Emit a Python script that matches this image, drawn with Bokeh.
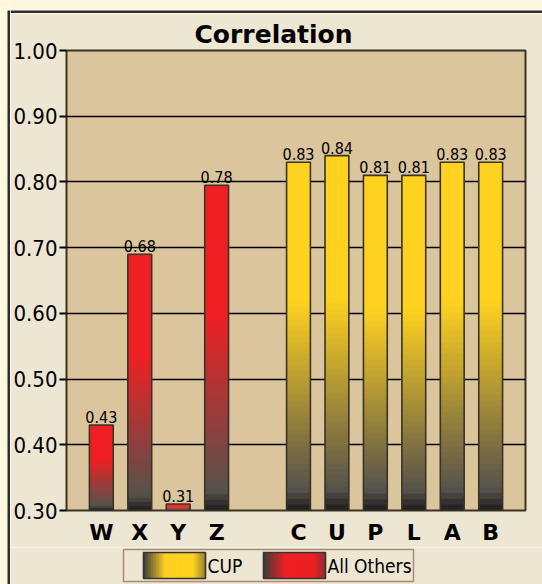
import numpy as np
from bokeh.plotting import figure
from bokeh.models import FactorRange, Range1d, FixedTicker, NumeralTickFormatter
from bokeh.layouts import column, row
from bokeh.embed import file_html
from bokeh.resources import INLINE
from bokeh.core.properties import value

# ---------------- data ----------------
title_text = "Correlation"
others_name = "All Others"
cup_name = "CUP"
others_cats = ["W", "X", "Y", "Z"]
others_vals = [0.43, 0.69, 0.31, 0.795]
others_labels = ["0.43", "0.68", "0.31", "0.78"]
cup_cats = ["C", "U", "P", "L", "A", "B"]
cup_vals = [0.83, 0.84, 0.81, 0.81, 0.83, 0.83]
cup_labels = ["0.83", "0.84", "0.81", "0.81", "0.83", "0.83"]
y_ticks = [0.30, 0.40, 0.50, 0.60, 0.70, 0.80, 0.90, 1.00]
y_min, y_max = 0.30, 1.00

# ---------------- styles ----------------
PAGE = "#fdf8dc"
EDGE = "#2e2e2e"
BG = "#ede6d2"
FRAME_BG = "#dbc59c"
YELLOW = (255, 210, 32)
RED = (238, 32, 36)
NARROW = "'DejaVu Sans Condensed', 'Roboto', sans-serif"
GEO = "DejaVu Sans"
W_ALL = 532


def hexc(c):
    return "#%02x%02x%02x" % tuple(int(round(v)) for v in c)


def grad(base, t):
    grey = np.array([86, 82, 76], float)
    black = np.array([28, 28, 28], float)
    b = np.array(base, float)
    if t < 0.06:
        f = t / 0.06
        return hexc(black * (1 - f) + grey * f)
    f = min(1.0, (t - 0.06) / 0.54)
    return hexc(grey * (1 - f) + b * f)


def bare(fig, bg):
    fig.axis.visible = False
    fig.grid.visible = False
    fig.outline_line_color = None
    fig.background_fill_color = bg
    fig.border_fill_color = bg


# ---------------- page edge strips ----------------
ls = figure(width=10, height=584, output_backend="svg", toolbar_location=None,
            x_range=Range1d(0, 10), y_range=Range1d(0, 584), min_border=0, frame_align=False)
bare(ls, PAGE)
ls.quad(left=7, right=10, bottom=0, top=574, fill_color=EDGE, line_color=None)

ts = figure(width=W_ALL, height=13, output_backend="svg", toolbar_location=None,
            x_range=Range1d(0, W_ALL), y_range=Range1d(0, 13), min_border=0, frame_align=False)
bare(ts, PAGE)
ts.quad(left=0, right=W_ALL, bottom=0, top=3, fill_color=EDGE, line_color=None)

# ---------------- main chart ----------------
g_others = "g1"
g_cup = "g2"
factors = [(g_others, c) for c in others_cats] + [(g_cup, c) for c in cup_cats]

p = figure(width=W_ALL, height=534, output_backend="svg", toolbar_location=None,
           x_range=FactorRange(*factors, group_padding=1.13, range_padding=0.073),
           y_range=Range1d(y_min, y_max), frame_align=False,
           min_border_left=54, min_border_right=17, min_border_top=37, min_border_bottom=31)
p.title.text = title_text
p.title.align = "left"
p.title.offset = 128
p.title.standoff = 4
p.title.text_font = GEO
p.title.text_font_style = "bold"
p.title.text_font_size = "25px"
p.title.text_color = "black"
p.background_fill_color = FRAME_BG
p.border_fill_color = BG
p.outline_line_color = "#3b3322"
p.outline_line_width = 2
p.outline_line_alpha = 1

p.yaxis.ticker = FixedTicker(ticks=y_ticks)
p.yaxis.formatter = NumeralTickFormatter(format="0.00")
p.yaxis.axis_line_color = None
p.yaxis.major_tick_out = 7
p.yaxis.major_tick_in = 0
p.yaxis.major_tick_line_width = 2
p.yaxis.major_tick_line_color = "black"
p.yaxis.minor_tick_line_color = None
p.yaxis.major_label_text_font = NARROW
p.yaxis.major_label_text_font_size = "22px"
p.yaxis.major_label_text_color = "black"
p.yaxis.major_label_standoff = 2

p.xaxis.axis_line_color = None
p.xaxis.major_tick_line_color = None
p.xaxis.minor_tick_line_color = None
p.xaxis.major_label_text_font = GEO
p.xaxis.major_label_text_font_style = "bold"
p.xaxis.major_label_text_font_size = "22px"
p.xaxis.major_label_text_color = "black"
p.xaxis.major_label_standoff = 3
p.xaxis.group_text_font_size = "0px"
p.xaxis.group_text_color = None
p.xaxis.separator_line_color = None

p.xgrid.grid_line_color = None
p.ygrid.grid_line_color = "black"
p.ygrid.grid_line_width = 1.5

BAR_W = 0.62
N = 60
xs, bots, tops, cols = [], [], [], []
for cats, vals, base, g in [(others_cats, others_vals, RED, g_others),
                            (cup_cats, cup_vals, YELLOW, g_cup)]:
    for c, v in zip(cats, vals):
        for k in range(N):
            xs.append((g, c))
            bots.append(y_min + (v - y_min) * k / N)
            tops.append(y_min + (v - y_min) * min(k + 2, N) / N)
            cols.append(grad(base, (k + 0.5) / N))
p.vbar(x=xs, width=BAR_W, bottom=bots, top=tops, fill_color=cols, line_color=None)

all_x = factors
all_v = others_vals + cup_vals
all_l = others_labels + cup_labels
p.vbar(x=all_x, width=BAR_W, bottom=y_min, top=all_v, fill_color=None,
       line_color="#3a3326", line_width=1.6)
p.text(x=all_x, y=all_v, text=all_l, text_align="center", text_baseline="bottom",
       y_offset=-2, text_font=value(NARROW), text_font_size="16px", text_color="black")

# ---------------- legend (custom, gradient swatches) ----------------
lf = figure(width=W_ALL, height=37, output_backend="svg", toolbar_location=None,
            x_range=Range1d(0, W_ALL), y_range=Range1d(0, 37), min_border=0, frame_align=False)
bare(lf, BG)
lf.quad(left=113, right=403, bottom=3, top=35, fill_color=None, line_color="#ad8a72", line_width=1.5)


def hgrad(base, u):
    b = np.array(base, float)
    dark = np.array([60, 60, 60], float)
    if u < 0.35:
        f = u / 0.35
    elif u > 0.8:
        f = 1 - 0.55 * (u - 0.8) / 0.2
    else:
        f = 1.0
    return hexc(dark * (1 - f) + b * f)


M = 40
for (x0, x1, base, name) in [(133, 195, YELLOW, cup_name), (253, 315, RED, others_name)]:
    lefts = [x0 + (x1 - x0) * k / M for k in range(M)]
    rights = [x0 + (x1 - x0) * min(k + 2, M) / M for k in range(M)]
    cc = [hgrad(base, (k + 0.5) / M) for k in range(M)]
    lf.quad(left=lefts, right=rights, bottom=6, top=32, fill_color=cc, line_color=None)
    lf.quad(left=x0, right=x1, bottom=6, top=32, fill_color=None, line_color="#333", line_width=1.6)
    lf.text(x=[x1 + 2], y=[19], text=[name], text_align="left", text_baseline="middle",
            text_font=value(NARROW), text_font_size="19px", text_color="black")

layout = row(ls, column(ts, p, lf, spacing=0), spacing=0)
html = file_html(layout, INLINE, title="Correlation")
html = html.replace("<body>", '<body style="background-color:%s;">' % PAGE, 1)
open("out.html", "w").write(html)
